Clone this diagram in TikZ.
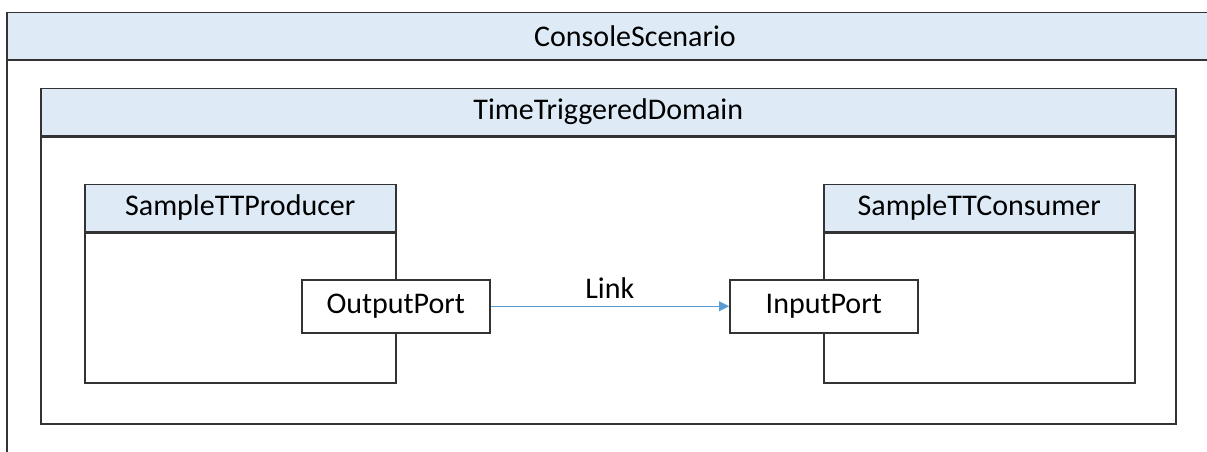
\documentclass[tikz,border=0pt]{standalone}
\usepackage{fontspec}
\setmainfont{Carlito}
\usetikzlibrary{positioning,arrows.meta}

\definecolor{headblue}{HTML}{DEEBF7}
\definecolor{linkblue}{HTML}{5B9BD5}

\tikzset{
	frame/.style={draw=black!80, line width=1.5pt, inner sep=0pt},
	head/.style={frame, fill=headblue, minimum height=47pt, font=\fontsize{30}{36}\selectfont},
	body/.style={frame, fill=white},
	port/.style={frame, fill=white, minimum width=188pt, minimum height=53pt, font=\fontsize{30}{36}\selectfont},
	link/.style={draw=linkblue, line width=1pt, -{Triangle[length=10pt,width=10pt]}}
}

\begin{document}
\begin{tikzpicture}[x=1pt,y=-1pt]
	\useasboundingbox (0,0) rectangle (1207,452);

	% scenario, open to the right and below
	\coordinate (scenNW) at (7,12.5);
	\coordinate (scenHS) at (7,60);
	\coordinate (scenEnd) at (1207,60);
	\fill[headblue] (scenNW) rectangle (scenEnd);
	\draw[black!80, line width=1.5pt] (1207,12.5) -- (scenNW) -- (7,452);
	\draw[black!80, line width=1.5pt] (scenHS) -- (scenEnd);
	\node[font=\fontsize{30}{36}\selectfont] (scenhead) at (635,36.25) {ConsoleScenario};

	% domain
	\node[body, minimum width=1135pt, minimum height=287pt, anchor=north west] (dombody) at (40,136) {};
	\node[head, minimum width=1135pt, above=0pt of dombody] (domhead) {TimeTriggeredDomain};

	% producer and consumer
	\node[body, minimum width=311pt, minimum height=150pt, anchor=north west] (prodbody) at (84,232) {};
	\node[head, minimum width=311pt, above=0pt of prodbody] (prodhead) {SampleTTProducer};
	\node[body, minimum width=311pt, minimum height=150pt, anchor=north west] (consbody) at (823,232) {};
	\node[head, minimum width=311pt, above=0pt of consbody] (conshead) {SampleTTConsumer};

	% ports
	\node[port, anchor=north west] (outport) at (301,279) {OutputPort};
	\node[port, anchor=north west] (inport) at (729,279) {InputPort};

	\draw[link] (outport) -- node[above=4pt, font=\fontsize{30}{36}\selectfont]{Link} (inport);
\end{tikzpicture}
\end{document}
